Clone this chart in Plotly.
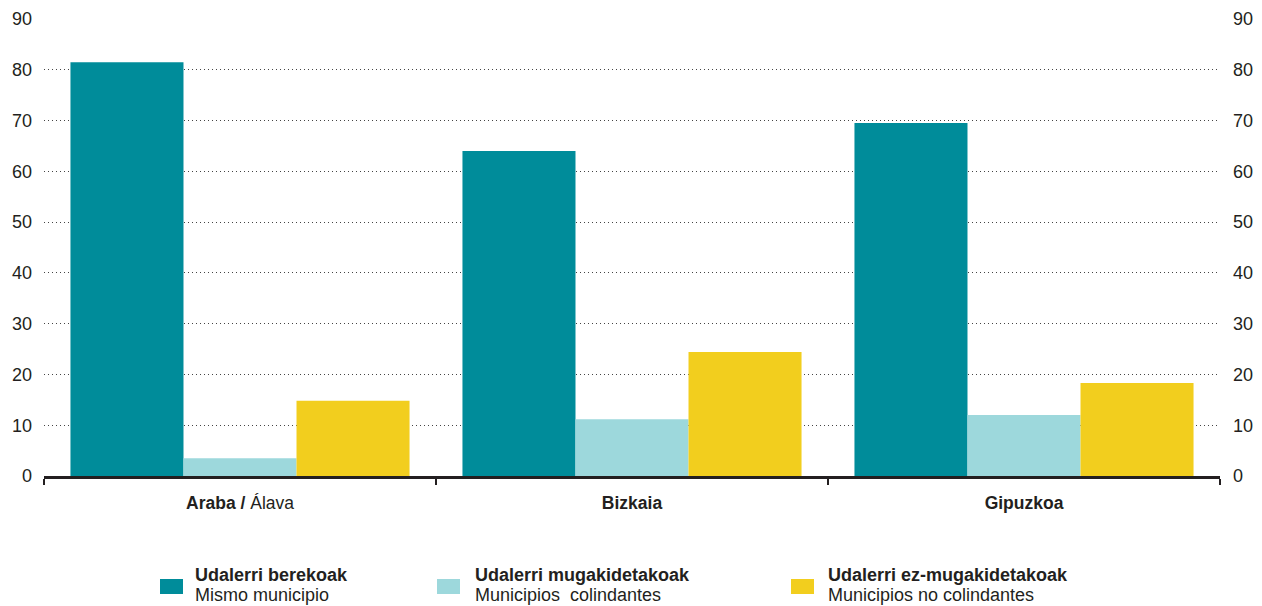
import plotly.graph_objects as go

# data
provinces = ["<b>Araba /</b> Álava", "<b>Bizkaia</b>", "<b>Gipuzkoa</b>"]
same_municipality = [81.5, 64.0, 69.5]
adjacent_municipality = [3.5, 11.2, 12.0]
non_adjacent_municipality = [14.8, 24.4, 18.3]
series_titles = ["Udalerri berekoak", "Udalerri mugakidetakoak", "Udalerri ez-mugakidetakoak"]
series_subtitles = ["Mismo municipio", "Municipios  colindantes", "Municipios no colindantes"]
colors = ["#008c9a", "#9dd8dc", "#f2ce1e"]
y_ticks = list(range(0, 100, 10))

font = "Liberation Sans, Arial, sans-serif"
text_color = "#231f20"

# plot area in pixels (for placing the custom legend)
W, H = 1262, 606
left, right, top, bottom = 44, 42, 19, 130
pw = W - left - right
ph = H - top - bottom


def px_x(p):
    return (p - left) / pw


def px_y(p):
    return (H - bottom - p) / ph


fig = go.Figure()
for vals, name, c in zip([same_municipality, adjacent_municipality, non_adjacent_municipality],
                         series_titles, colors):
    fig.add_trace(go.Bar(x=provinces, y=vals, name=name, marker=dict(color=c, line=dict(width=0)),
                         showlegend=False))

# invisible trace so the right axis is drawn
fig.add_trace(go.Scatter(x=provinces, y=[None] * 3, yaxis="y2", showlegend=False, hoverinfo="skip"))

axis_font = dict(family=font, size=18, color=text_color)
fig.update_layout(
    width=W, height=H,
    margin=dict(l=left, r=right, t=top, b=bottom, autoexpand=False),
    plot_bgcolor="white", paper_bgcolor="white",
    barmode="group", bargap=0.135, bargroupgap=0,
    xaxis=dict(showline=True, linecolor="#231f20", linewidth=2.5, ticks="outside",
               tickson="boundaries", ticklen=6, tickwidth=2, tickcolor="#231f20",
               showgrid=False, automargin=False,
               tickfont=dict(family=font, size=17.5, color=text_color),
               ticklabelstandoff=9),
    yaxis=dict(range=[0, 90], tickvals=y_ticks, showline=False, zeroline=False,
               showgrid=True, gridcolor="#444444", griddash="1px,3px", gridwidth=1,
               automargin=False, tickfont=axis_font, ticklabelstandoff=11),
    yaxis2=dict(range=[0, 90], tickvals=y_ticks, overlaying="y", side="right",
                showgrid=False, zeroline=False, showline=False, automargin=False,
                tickfont=axis_font, ticklabelstandoff=12),
)

# custom two-line legend below the chart
swatch_left = [160, 437, 791]
text_left = [193, 473, 826]
for sx, tx, c, t, s in zip(swatch_left, text_left, colors, series_titles, series_subtitles):
    fig.add_shape(type="rect", xref="paper", yref="paper",
                  x0=px_x(sx), x1=px_x(sx + 23), y0=px_y(594), y1=px_y(579),
                  fillcolor=c, line=dict(width=0))
    fig.add_annotation(xref="paper", yref="paper", x=px_x(tx), y=px_y(575),
                       xanchor="left", yanchor="middle", align="left", showarrow=False,
                       text=f"<b>{t}</b>",
                       font=dict(family=font, size=18, color=text_color))
    fig.add_annotation(xref="paper", yref="paper", x=px_x(tx), y=px_y(595),
                       xanchor="left", yanchor="middle", align="left", showarrow=False,
                       text=s,
                       font=dict(family=font, size=18, color=text_color))

fig.write_html("out.html", config={"displayModeBar": False},
               post_script="document.body.style.margin = '0';")
